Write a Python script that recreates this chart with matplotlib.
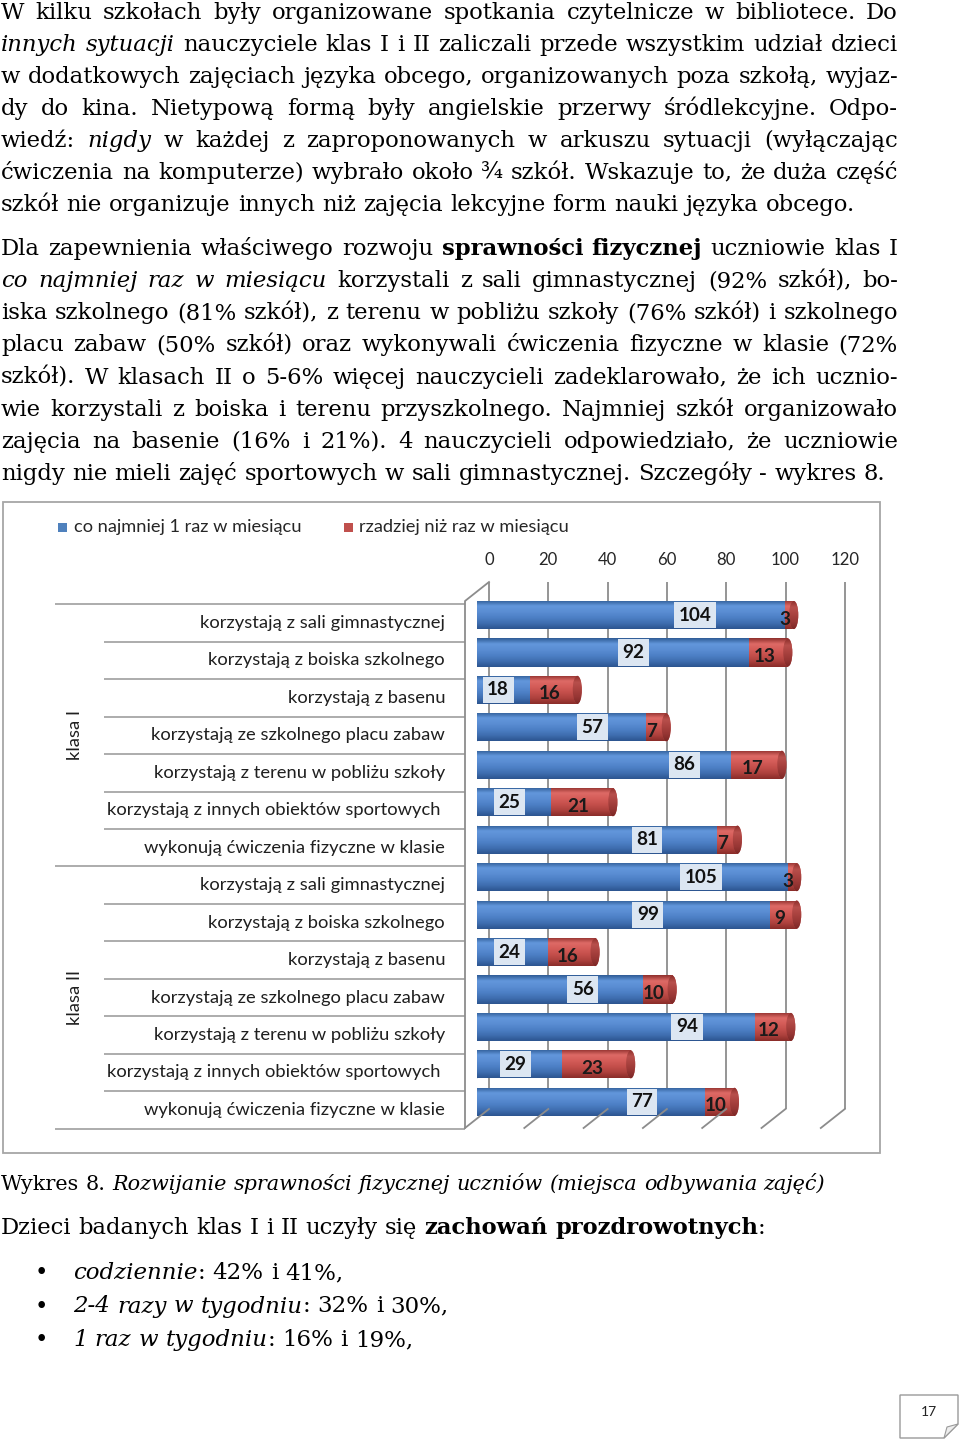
import matplotlib
matplotlib.use("Agg")
import matplotlib.pyplot as plt
import numpy as np
from matplotlib.patches import Rectangle, Ellipse, Polygon
from matplotlib.lines import Line2D
from matplotlib.colors import LinearSegmentedColormap

# ---------------- data ----------------
categories = ["korzystają z sali gimnastycznej",
              "korzystają z boiska szkolnego",
              "korzystają z basenu",
              "korzystają ze szkolnego placu zabaw",
              "korzystają z terenu w pobliżu szkoły",
              "korzystają z innych obiektów sportowych ",
              "wykonują ćwiczenia fizyczne w klasie"]
groups = ["klasa I", "klasa II"]
klasa1_monthly = [104, 92, 18, 57, 86, 25, 81]
klasa1_rarely = [3, 13, 16, 7, 17, 21, 7]
klasa2_monthly = [105, 99, 24, 56, 94, 29, 77]
klasa2_rarely = [3, 9, 16, 10, 12, 23, 10]
series_names = ["co najmniej 1 raz w miesiącu", "rzadziej niż raz w miesiącu"]
x_ticks = [0, 20, 40, 60, 80, 100, 120]

para1 = ["W kilku szkołach były organizowane spotkania czytelnicze w bibliotece. Do",
         "_innych sytuacji_ nauczyciele klas I i II zaliczali przede wszystkim udział dzieci",
         "w dodatkowych zajęciach języka obcego, organizowanych poza szkołą, wyjaz-",
         "dy do kina. Nietypową formą były angielskie przerwy śródlekcyjne. Odpo-",
         "wiedź: _nigdy_ w każdej z zaproponowanych w arkuszu sytuacji (wyłączając",
         "ćwiczenia na komputerze) wybrało około ¾ szkół. Wskazuje to, że duża część",
         "szkół nie organizuje innych niż zajęcia lekcyjne form nauki języka obcego."]
para2 = ["Dla zapewnienia właściwego rozwoju *sprawności fizycznej* uczniowie klas I",
         "_co najmniej raz w miesiącu_ korzystali z sali gimnastycznej (92% szkół), bo-",
         "iska szkolnego (81% szkół), z terenu w pobliżu szkoły (76% szkół) i szkolnego",
         "placu zabaw (50% szkół) oraz wykonywali ćwiczenia fizyczne w klasie (72%",
         "szkół). W klasach II o 5-6% więcej nauczycieli zadeklarowało, że ich ucznio-",
         "wie korzystali z boiska i terenu przyszkolnego. Najmniej szkół organizowało",
         "zajęcia na basenie (16% i 21%). 4 nauczycieli odpowiedziało, że uczniowie",
         "nigdy nie mieli zajęć sportowych w sali gimnastycznej. Szczegóły - wykres 8."]
caption = "Wykres 8. _Rozwijanie sprawności fizycznej uczniów (miejsca odbywania zajęć)_"
intro = "Dzieci badanych klas I i II uczyły się *zachowań prozdrowotnych*:"
bullets = ["_codziennie_: 42% i 41%,",
           "_2-4 razy w tygodniu_: 32% i 30%,",
           "_1 raz w tygodniu_: 16% i 19%,"]
page_number = "17"

# ---------------- layout ----------------
W, H = 960, 1440
fig = plt.figure(figsize=(W / 100, H / 100), dpi=100)
fig.patch.set_facecolor("white")
renderer = fig.canvas.get_renderer()

SERIF = "DejaVu Serif"
SANS = ["Lato", "DejaVu Sans"]


def fx(px):
    return px / W


def fy(py):
    return 1 - py / H


def add_axes_px(x0, y0, x1, y1):
    return fig.add_axes([x0 / W, 1 - y1 / H, (x1 - x0) / W, (y1 - y0) / H])


_cache = {}


def text_w(s, size, family, italic=False, bold=False):
    key = (s, size, str(family), italic, bold)
    if key not in _cache:
        t = fig.text(0, 0, s, fontsize=size, family=family,
                     style="italic" if italic else "normal",
                     weight="bold" if bold else "normal")
        _cache[key] = t.get_window_extent(renderer).width
        t.remove()
    return _cache[key]


def parse(markup):
    words, cur, buf = [], [], ""
    it = bd = False
    for ch in markup + " ":
        if ch in "_*":
            if buf:
                cur.append((buf, it, bd))
                buf = ""
            if ch == "_":
                it = not it
            else:
                bd = not bd
        elif ch == " ":
            if buf:
                cur.append((buf, it, bd))
                buf = ""
            if cur:
                words.append(cur)
                cur = []
        else:
            buf += ch
    return words


def natural_width(markup, size, family):
    words = parse(markup)
    sp = text_w("x x", size, family) - text_w("xx", size, family)
    tot = sum(text_w(r[0], size, family, r[1], r[2]) for w in words for r in w)
    return tot + sp * (len(words) - 1)


def fit_size(markup, target, family, s0=20.0):
    return s0 * target / natural_width(markup, s0, family)


def draw_line(markup, x0, yb, size, family, right=None, color="black"):
    words = parse(markup)
    ww = [sum(text_w(r[0], size, family, r[1], r[2]) for r in w) for w in words]
    if right is not None and len(words) > 1:
        gap = (right - x0 - sum(ww)) / (len(words) - 1)
    else:
        gap = text_w("x x", size, family) - text_w("xx", size, family)
    x = x0
    for w in words:
        for txt, it, bd in w:
            fig.text(fx(x), fy(yb), txt, fontsize=size, family=family,
                     style="italic" if it else "normal",
                     weight="bold" if bd else "normal",
                     ha="left", va="baseline", color=color)
            x += text_w(txt, size, family, it, bd)
        x += gap


# ---------------- page text ----------------
body_size = 0.5 * (fit_size(para1[-1], 856, SERIF) + fit_size(para2[-1], 882, SERIF))
for k, line in enumerate(para1):
    draw_line(line, 1, 19 + 32.0 * k, body_size, SERIF,
              right=898 if k < len(para1) - 1 else None)
for k, line in enumerate(para2):
    draw_line(line, 1, 255 + 32.15 * k, body_size, SERIF,
              right=898 if k < len(para2) - 1 else None)

cap_size = fit_size(caption, 826, SERIF)
draw_line(caption, 1, 1190, cap_size, SERIF)
intro_size = fit_size(intro, 764, SERIF)
draw_line(intro, 1, 1234, intro_size, SERIF)
bul_size = fit_size(bullets[1], 375, SERIF)
for k, b in enumerate(bullets):
    yb = 1279 + 33.5 * k
    fig.text(fx(41), fy(yb), "•", fontsize=bul_size, family=SERIF,
             ha="center", va="baseline")
    draw_line(b, 73, yb, bul_size, SERIF)

# page number box with folded corner
fig.patches.append(Polygon([(fx(900), fy(1395)), (fx(958), fy(1395)), (fx(958), fy(1424)),
                            (fx(944), fy(1438)), (fx(900), fy(1438))], closed=True,
                           fc="white", ec="#9a9a9a", lw=1.0, transform=fig.transFigure))
fig.patches.append(Polygon([(fx(958), fy(1424)), (fx(947), fy(1427)), (fx(944), fy(1438))],
                           closed=True, fc="#eeeeee", ec="#9a9a9a", lw=0.8,
                           transform=fig.transFigure))
fig.text(fx(929), fy(1412), page_number, fontsize=10, family=SANS,
         ha="center", va="center", color="#222222")

# ---------------- chart ----------------
# outer frame
fig.patches.append(Rectangle((fx(3), fy(1153)), fx(880) - fx(3), fy(502) - fy(1153),
                             fill=False, ec="#a6a6a6", lw=1.3, transform=fig.transFigure))

label_size = fit_size(categories[0], 244, SANS)
legend_size = fit_size(series_names[0], 229, SANS)
tick_size = fit_size("120", 29, SANS)
num_size = 20.0 * 33.0 / text_w("104", 20.0, SANS, False, True)

blue_main, red_main = "#4f81bd", "#c0504d"
# legend
for name, col, sx, tx in [(series_names[0], blue_main, 58, 74), (series_names[1], red_main, 344, 359)]:
    fig.patches.append(Rectangle((fx(sx), fy(531.5)), 9 / W, 9 / H, fc=col, ec="none",
                                 transform=fig.transFigure))
    fig.text(fx(tx), fy(527), name, fontsize=legend_size, family=SANS,
             ha="left", va="center", color="#262626")

# back wall with gridlines and top tick labels
PX_UNIT = 2.965
back_x0, back_y0, back_y1 = 489, 582, 1109
axb = add_axes_px(back_x0, back_y0, back_x0 + 120 * PX_UNIT, back_y1)
axb.set_xlim(0, 120)
axb.set_ylim(0, 1)
axb.patch.set_alpha(0)
for s in axb.spines.values():
    s.set_visible(False)
axb.set_yticks([])
axb.xaxis.tick_top()
axb.set_xticks(x_ticks)
axb.set_xticklabels([str(t) for t in x_ticks], fontsize=tick_size, family=SANS, color="#262626")
axb.tick_params(axis="x", length=0, pad=10)
grid_col = "#8c8c8c"
axb.vlines(x_ticks, 0, 1, colors=grid_col, lw=1.3, clip_on=False)
DX, DY = -24, -19   # depth offset (pixels, display coords: y up)
for t in x_ticks:
    px, py = axb.transData.transform((t, 0))
    fig.add_artist(Line2D([px, px + DX], [py, py + DY], color=grid_col, lw=1.3,
                          transform=None))
# left wall
p_top = axb.transData.transform((0, 1))
p_bot = axb.transData.transform((0, 0))
fig.add_artist(Line2D([p_top[0], p_top[0] + DX, p_bot[0] + DX],
                      [p_top[1], p_top[1] + DY, p_bot[1] + DY],
                      color=grid_col, lw=1.3, transform=None))

# category labels + separators
row_h = 37.45
lab_top = 604.3
axl = add_axes_px(55, lab_top, 465, lab_top + 14 * row_h)
axl.set_xlim(0, 1)
axl.set_ylim(13.5, -0.5)
axl.axis("off")
all_labels = categories + categories
lab_x = (445 - 55) / (465 - 55)
for i, lab in enumerate(all_labels):
    axl.text(lab_x, i, lab, ha="right", va="center", fontsize=label_size,
             family=SANS, color="#1f1f1f", transform=axl.get_yaxis_transform())
sep_col = "#a6a6a6"
short_x = (104 - 55) / (465 - 55)
for b in np.arange(-0.5, 14, 1.0):
    x_start = 0 if b in (-0.5, 6.5, 13.5) else short_x
    axl.hlines(b, x_start, 1, colors=sep_col, lw=1.3, transform=axl.get_yaxis_transform(),
               clip_on=False)
for g, name in enumerate(groups):
    fig.text(fx(75), fy(lab_top + (3.5 + 7 * g) * row_h), name, rotation=90,
             ha="center", va="center", fontsize=label_size, family=SANS, color="#1f1f1f")

# bars (cylinders)
bar_x0 = 476.5
bar_top = lab_top - 8
axc = add_axes_px(bar_x0, bar_top, bar_x0 + 120 * PX_UNIT, bar_top + 14 * row_h)
axc.set_xlim(0, 120)
axc.set_ylim(13.5, -0.5)
axc.axis("off")

monthly = klasa1_monthly + klasa2_monthly
rarely = klasa1_rarely + klasa2_rarely
ypos = np.arange(len(monthly))
bar_h = 0.75
blue_cmap = LinearSegmentedColormap.from_list(
    "b", ["#2f5c96", "#6397dc", "#5a8dd3", "#4d80c6", "#3f6eb0", "#2c5590"])
red_cmap = LinearSegmentedColormap.from_list(
    "r", ["#8f302d", "#de6a66", "#d45c58", "#c44f4b", "#ad413d", "#8a2c29"])
cap_cmap = LinearSegmentedColormap.from_list(
    "c", ["#8a2c29", "#b8504c", "#a9423f", "#973634", "#7c2826"])
grad = np.linspace(0, 1, 80).reshape(-1, 1)


def fill_gradient(patch, cmap, x0, x1, yc, z):
    im = axc.imshow(grad, cmap=cmap, extent=(x0, x1, yc + bar_h / 2, yc - bar_h / 2),
                    aspect="auto", origin="upper", interpolation="bilinear", zorder=z)
    im.set_clip_path(patch)


blue_bars = axc.barh(ypos, monthly, height=bar_h, color=blue_main, zorder=2, lw=0)
red_bars = axc.barh(ypos, rarely, left=monthly, height=bar_h, color=red_main, zorder=2, lw=0)
cap_w = 9 / PX_UNIT
for i in range(len(monthly)):
    m, r = monthly[i], rarely[i]
    left_cap = Ellipse((0, ypos[i]), cap_w, bar_h, fc=blue_main, ec="none", zorder=1.9)
    axc.add_patch(left_cap)
    fill_gradient(left_cap, blue_cmap, -cap_w, cap_w, ypos[i], 1.95)
    fill_gradient(blue_bars[i], blue_cmap, 0, m, ypos[i], 2.1)
    fill_gradient(red_bars[i], red_cmap, m, m + r, ypos[i], 2.1)
    end_cap = Ellipse((m + r, ypos[i]), cap_w, bar_h, fc=red_main, ec="none", zorder=2.3)
    axc.add_patch(end_cap)
    fill_gradient(end_cap, cap_cmap, m + r - cap_w, m + r + cap_w, ypos[i], 2.35)

axc.set_xlim(0, 120)
axc.set_ylim(13.5, -0.5)

# data labels
blue_label_pos = [73.7, 52.8, 7.3, 39.0, 70.0, 11.0, 57.5,
                  75.7, 57.8, 11.0, 35.9, 71.0, 13.0, 55.8]
for i in range(len(monthly)):
    axc.text(blue_label_pos[i], ypos[i], str(monthly[i]), ha="center", va="center",
             fontsize=num_size, weight="bold", family=SANS, color="#111111", zorder=5,
             bbox=dict(boxstyle="square,pad=0.24", fc="#dce6f2", ec="none"))
    axc.annotate(str(rarely[i]), (monthly[i] + rarely[i] / 2, ypos[i]),
                 xytext=(-4, -4), textcoords="offset pixels", ha="center", va="center",
                 fontsize=num_size, weight="bold", family=SANS, color="#1a1a1a", zorder=5)

fig.savefig("out.png", dpi=100, facecolor="white")
